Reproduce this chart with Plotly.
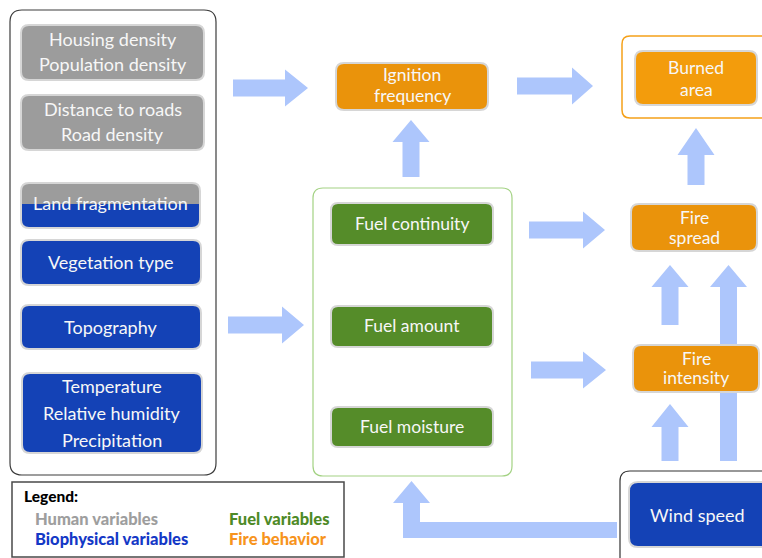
import plotly.graph_objects as go

# ---------------- data (labels) ----------------
human_labels = [["Housing density", "Population density"],
                ["Distance to roads", "Road density"]]
mixed_label = ["Land fragmentation"]
bio_labels = [["Vegetation type"], ["Topography"],
              ["Temperature", "Relative humidity", "Precipitation"]]
fuel_labels = [["Fuel continuity"], ["Fuel amount"], ["Fuel moisture"]]
fire_labels = [["Ignition", "frequency"], ["Burned", "area"],
               ["Fire", "spread"], ["Fire", "intensity"]]
wind_label = ["Wind speed"]
legend_title = "Legend:"
legend_labels = ["Human variables", "Biophysical variables",
                 "Fuel variables", "Fire behavior"]

# ---------------- styles ----------------
GREY = "#9c9c9c"
BLUE = "#1442b6"
GREEN = "#558c29"
ORANGE = "#ea930b"
ORANGE2 = "#f39c0c"
ARROW = "#adc6fc"
BEVEL = "#d6d6d6"
FONT = "Lato"
legend_colors = ["#9e9e9e", "#1438c6", "#4e8a27", "#f7941d"]

W, H = 762, 558
shapes = []
annotations = []


def rr_path(x0, y0, x1, y1, r):
    return (f"M {x0+r},{y0} L {x1-r},{y0} Q {x1},{y0} {x1},{y0+r} "
            f"L {x1},{y1-r} Q {x1},{y1} {x1-r},{y1} L {x0+r},{y1} "
            f"Q {x0},{y1} {x0},{y1-r} L {x0},{y0+r} Q {x0},{y0} {x0+r},{y0} Z")


def rbox(x0, y0, x1, y1, r, fill=None, line=None, lw=1.0):
    shapes.append(dict(type="path", path=rr_path(x0, y0, x1, y1, r),
                       xref="x", yref="y",
                       fillcolor=fill if fill else "rgba(0,0,0,0)",
                       line=dict(color=line if line else "rgba(0,0,0,0)",
                                 width=lw if line else 0)))


def arrow_right(x0, xt, yc, sh=8.5, hh=18.5, hl=22):
    xb = xt - hl
    p = (f"M {x0},{yc-sh} L {xb},{yc-sh} L {xb},{yc-hh} L {xt},{yc} "
         f"L {xb},{yc+hh} L {xb},{yc+sh} L {x0},{yc+sh} Z")
    shapes.append(dict(type="path", path=p, xref="x", yref="y",
                       fillcolor=ARROW, line=dict(width=0)))


def arrow_up(xc, yb, yt, sh=8.5, hh=18.5, hl=22):
    ybase = yt + hl
    p = (f"M {xc-sh},{yb} L {xc-sh},{ybase} L {xc-hh},{ybase} L {xc},{yt} "
         f"L {xc+hh},{ybase} L {xc+sh},{ybase} L {xc+sh},{yb} Z")
    shapes.append(dict(type="path", path=p, xref="x", yref="y",
                       fillcolor=ARROW, line=dict(width=0)))


def text_lines(lines, xc, yc, size, spacing, color="#f7f7f7", bold=False):
    n = len(lines)
    for i, t in enumerate(lines):
        y = yc + (i - (n - 1) / 2) * spacing
        annotations.append(dict(x=xc, y=y, xref="x", yref="y", text=f"<b>{t}</b>" if bold else t,
                                showarrow=False, xanchor="center", yanchor="middle",
                                font=dict(family=FONT, size=size, color=color)))


# ---------------- arrows (drawn first) ----------------
arrow_right(233, 308, 88, hl=23)
arrow_right(228, 304, 325)
arrow_up(411, 177, 120)
arrow_right(517, 593, 86, hl=21)
arrow_right(529, 605, 230)
arrow_right(531, 606, 370, hl=23)
arrow_up(696, 185, 128, hl=27)
arrow_up(670, 325, 265)
arrow_up(670, 461, 404, hl=23)
arrow_up(728.5, 461, 265)
# L-shaped arrow wind -> fuel
shapes.append(dict(type="path",
                   path="M 617,522 L 420,522 L 420,503 L 430,503 L 411.5,481 "
                        "L 393,503 L 403,503 L 403,538 L 617,538 Z",
                   xref="x", yref="y", fillcolor=ARROW, line=dict(width=0)))

# ---------------- container boxes ----------------
rbox(10, 10, 216, 475, 12, line="#3c3c3c", lw=1.2)
rbox(313, 188, 512, 476, 10, line="#a3d283", lw=1.2)
rbox(622, 36, 780, 118, 8, line="#f5a11a", lw=1.5)
rbox(620, 471, 780, 575, 10, line="#333333", lw=1.2)
shapes.append(dict(type="rect", x0=12, y0=482, x1=344, y1=557, xref="x", yref="y",
                   line=dict(color="#4a4a4a", width=1.5), fillcolor="white"))

# ---------------- human boxes ----------------
human_geo = [(21, 25, 204, 80), (21, 95, 204, 150)]
for (x0, y0, x1, y1), lab in zip(human_geo, human_labels):
    rbox(x0, y0, x1, y1, 8, fill=GREY, line=BEVEL, lw=2)
    text_lines(lab, (x0 + x1) / 2, (y0 + y1) / 2 - 1, 18, 25)

# land fragmentation (half grey, half blue)
x0, y0, x1, y1, ym = 21, 183, 200, 228, 204
rbox(x0, y0, x1, y1, 8, fill=BLUE)
shapes.append(dict(type="path", xref="x", yref="y",
                   path=f"M {x0},{ym} L {x0},{y0+8} Q {x0},{y0} {x0+8},{y0} L {x1-8},{y0} "
                        f"Q {x1},{y0} {x1},{y0+8} L {x1},{ym} Z",
                   fillcolor=GREY, line=dict(width=0)))
rbox(x0, y0, x1, y1, 8, line=BEVEL, lw=2)
text_lines(mixed_label, (x0 + x1) / 2, 203, 18, 25)

# biophysical boxes
bio_geo = [(21, 240, 201, 285), (21, 305, 201, 349), (22, 373, 202, 453)]
for (x0, y0, x1, y1), lab in zip(bio_geo, bio_labels):
    rbox(x0, y0, x1, y1, 8, fill=BLUE, line=BEVEL, lw=2)
    text_lines(lab, (x0 + x1) / 2, (y0 + y1) / 2 - 0.5, 18, 27)

# fuel boxes
fuel_geo = [(331, 203, 493, 245), (331, 306, 493, 347), (331, 407, 493, 447)]
for (x0, y0, x1, y1), lab in zip(fuel_geo, fuel_labels):
    rbox(x0, y0, x1, y1, 7, fill=GREEN, line=BEVEL, lw=2)
    text_lines(lab, (x0 + x1) / 2, (y0 + y1) / 2 - 1, 17.5, 22)

# fire behaviour boxes
fire_geo = [(336, 63, 488, 110), (635, 51, 757, 105), (631, 204, 757, 251), (633, 345, 759, 392)]
fire_fill = [ORANGE, ORANGE2, ORANGE, ORANGE]
fire_text_y = [85, 78.5, 227.5, 368]
fire_spacing = [21, 22, 20, 19]
for (x0, y0, x1, y1), lab, fc, ty, sp in zip(fire_geo, fire_labels, fire_fill, fire_text_y, fire_spacing):
    rbox(x0, y0, x1, y1, 8, fill=fc, line=BEVEL, lw=2)
    text_lines(lab, (x0 + x1) / 2, ty, 17.5, sp)

# wind speed
rbox(629, 482, 775, 547, 9, fill=BLUE, line=BEVEL, lw=2)
text_lines(wind_label, 697, 515, 18, 22)

# ---------------- legend ----------------
annotations.append(dict(x=22, y=496, xref="x", yref="y", text=legend_title,
                        showarrow=False, xanchor="left", yanchor="middle",
                        font=dict(family=FONT, size=15.5, color="black", weight=900)))
leg_x = [33, 33, 227, 227]
leg_y = [519, 539, 519, 539]
for lx, ly, lab, col in zip(leg_x, leg_y, legend_labels, legend_colors):
    annotations.append(dict(x=lx, y=ly, xref="x", yref="y", text=lab,
                            showarrow=False, xanchor="left", yanchor="middle",
                            font=dict(family=FONT, size=16.5, color=col, weight=900)))

fig = go.Figure()
fig.add_trace(go.Scatter(
    x=[lx - 10 for lx in leg_x], y=leg_y, mode="markers",
    marker=dict(symbol="triangle-right", size=8, color=legend_colors, line=dict(width=0)),
    hoverinfo="skip", showlegend=False))

fig.update_layout(
    width=W, height=H, margin=dict(l=0, r=0, t=0, b=0),
    plot_bgcolor="white", paper_bgcolor="white",
    xaxis=dict(range=[0, W], visible=False, fixedrange=True),
    yaxis=dict(range=[H, 0], visible=False, fixedrange=True),
    shapes=shapes, annotations=annotations, showlegend=False,
)
fig.write_html("out.html", config={"displayModeBar": False},
               post_script="document.body.style.margin='0';")
